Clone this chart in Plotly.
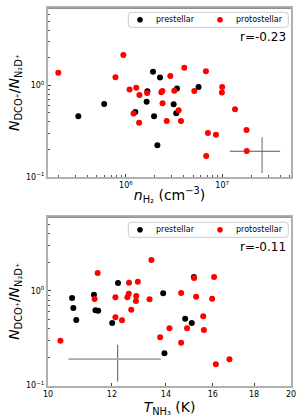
import plotly.graph_objects as go
from plotly.subplots import make_subplots

# ---------------- data ----------------
# top panel: n(H2) vs ratio
pre_nh2 = [3.20e5, 5.94e5, 1.25e6, 1.64e6, 1.67e6, 1.91e6, 2.26e6, 1.96e6, 3.13e6, 3.33e6, 3.39e6, 5.68e6, 2.12e6]
pre_ratio_a = [0.459, 0.627, 0.512, 0.664, 0.864, 1.41, 1.22, 0.459, 0.622, 0.495, 0.923, 0.963, 0.221]
pro_nh2 = [1.98e5, 9.4e5, 7.78e5, 1.09e6, 1.28e6, 1.38e6, 1.66e6, 1.20e6, 1.37e6, 2.39e6, 2.33e6, 2.89e6,
           2.40e6, 2.65e6, 3.18e6, 3.53e6, 3.73e6, 4.04e6, 5.13e6, 6.78e6, 1.0e7, 9.93e6, 1.36e7, 7.11e6,
           8.61e6, 1.79e7, 6.82e6, 1.80e7]
pro_ratio_a = [1.38, 2.16, 1.23, 0.90, 0.946, 0.787, 0.828, 0.491, 0.391, 0.871, 0.842, 1.27,
               0.638, 0.408, 0.877, 0.535, 0.408, 1.56, 0.871, 1.43, 0.963, 0.834, 0.548, 0.301,
               0.289, 0.325, 0.169, 0.191]

# bottom panel: T(NH3) vs ratio
pre_tk = [10.71, 10.75, 10.84, 11.40, 11.45, 11.54, 12.01, 12.21, 13.89, 13.94, 14.79, 15.07, 15.16]
pre_ratio_b = [0.841, 0.660, 0.492, 0.912, 0.624, 0.618, 0.458, 1.21, 0.943, 0.219, 0.508, 0.458, 1.40]
pro_tk = [10.36, 11.52, 11.42, 12.12, 12.12, 12.35, 12.60, 12.59, 12.54, 12.68, 12.86, 12.85,
          12.92, 13.36, 13.43, 13.77, 14.14, 14.62, 14.62, 14.87, 15.17, 15.26, 15.57, 15.60,
          15.97, 16.06, 16.14, 16.78]
pro_ratio_b = [0.298, 1.55, 0.821, 0.856, 0.526, 0.489, 1.22, 0.934, 0.856, 0.632, 0.883, 0.782,
               1.25, 0.815, 2.12, 0.324, 0.403, 0.951, 0.283, 0.403, 1.37, 0.868, 0.539, 0.386,
               0.827, 1.40, 0.168, 0.190]

# representative error crosses
err_a_x, err_a_y, err_a_dx, err_a_dy = [2.6e7], [0.19], [1.4e7], [0.08]
err_b_x, err_b_y, err_b_dx, err_b_dy = [12.2], [0.19], [1.6], [0.08]

series_names = ["prestellar", "protostellar"]
series_colors = ["black", "red"]
r_texts = ["r=-0.23", "r=-0.11"]
x_ticks_a = [1e6, 1e7]
x_ticktext_a = ["10<sup>6</sup>", "10<sup>7</sup>"]
x_ticks_b = [10, 12, 14, 16, 18, 20]
y_ticks = [0.1, 1.0]
y_ticktext = ["10<sup>\u22121</sup>", "10<sup>0</sup>"]

# ---------------- figure ----------------
FONT = "DejaVu Sans"
W, HT = 300, 420
ML, MR, MT, MB = 48, 9, 8, 34
PW, PH = W - ML - MR, HT - MT - MB

def py(p):
    return min(1.0, max(0.0, 1 - (p - MT) / PH))

def px(p):
    return (p - ML) / PW

fig = make_subplots(rows=2, cols=1, vertical_spacing=0.1077)
fig.update_layout(
    width=W, height=HT,
    margin=dict(l=ML, r=MR, t=MT, b=MB, autoexpand=False),
    plot_bgcolor="white", paper_bgcolor="white",
    font=dict(family=FONT, size=8, color="black"),
    showlegend=False,
)

MS = 6
fig.add_trace(go.Scatter(x=pre_nh2, y=pre_ratio_a, mode="markers", name=series_names[0],
                         marker=dict(color=series_colors[0], size=MS)), row=1, col=1)
fig.add_trace(go.Scatter(x=pro_nh2, y=pro_ratio_a, mode="markers", name=series_names[1],
                         marker=dict(color=series_colors[1], size=MS)), row=1, col=1)
fig.add_trace(go.Scatter(x=err_a_x, y=err_a_y, mode="markers", showlegend=False,
                         marker=dict(size=1, color="rgba(0,0,0,0)"),
                         error_x=dict(type="data", array=err_a_dx, color="#555555", thickness=1, width=0),
                         error_y=dict(type="data", array=err_a_dy, color="#aaaaaa", thickness=1.8, width=0)),
              row=1, col=1)

fig.add_trace(go.Scatter(x=pre_tk, y=pre_ratio_b, mode="markers", name=series_names[0],
                         marker=dict(color=series_colors[0], size=MS)), row=2, col=1)
fig.add_trace(go.Scatter(x=pro_tk, y=pro_ratio_b, mode="markers", name=series_names[1],
                         marker=dict(color=series_colors[1], size=MS)), row=2, col=1)
fig.add_trace(go.Scatter(x=err_b_x, y=err_b_y, mode="markers", showlegend=False,
                         marker=dict(size=1, color="rgba(0,0,0,0)"),
                         error_x=dict(type="data", array=err_b_dx, color="#aaaaaa", thickness=1.8, width=0),
                         error_y=dict(type="data", array=err_b_dy, color="#555555", thickness=1, width=0)),
              row=2, col=1)

fig.update_layout(
    yaxis=dict(domain=[py(176.7), py(8.3)]),
    yaxis2=dict(domain=[py(385.5), py(217.3)]),
)

axis_common = dict(showline=True, linecolor="#b0b0b0", linewidth=2, mirror=True,
                   showgrid=False, zeroline=False, ticks="inside", ticklen=3,
                   tickcolor="#444444", tickfont=dict(size=8, family=FONT), automargin=False)
minor_log = dict(ticks="inside", ticklen=2, tickcolor="#555555", dtick="D1", showgrid=False)
TF = 14

fig.update_xaxes(type="log", range=[5.19, 7.715], tickmode="array", tickvals=x_ticks_a,
                 ticktext=x_ticktext_a, minor=minor_log,
                 title=dict(text="<i>n</i><sub>H\u2082</sub> (cm<sup>\u22123</sup>)",
                            font=dict(size=TF, family=FONT), standoff=1),
                 row=1, col=1, **axis_common)
fig.update_xaxes(type="log", range=[1.0, 1.30103], tickmode="array", tickvals=x_ticks_b,
                 ticktext=[str(v) for v in x_ticks_b],
                 title=dict(text="<i>T</i><sub>NH\u2083</sub> (K)",
                            font=dict(size=TF, family=FONT), standoff=1),
                 row=2, col=1, **axis_common)
ytitle = "<i>N</i><sub>DCO\u207a</sub>/<i>N</i><sub>N\u2082D\u207a</sub>"
fig.update_yaxes(type="log", range=[-1, 0.845], tickmode="array", tickvals=y_ticks,
                 ticktext=y_ticktext, minor=minor_log,
                 title=dict(text=ytitle, font=dict(size=TF, family=FONT), standoff=3),
                 row=1, col=1, **axis_common)
fig.update_yaxes(type="log", range=[-1, 0.778], tickmode="array", tickvals=y_ticks,
                 ticktext=y_ticktext, minor=minor_log,
                 title=dict(text=ytitle, font=dict(size=TF, family=FONT), standoff=3),
                 row=2, col=1, **axis_common)

# darker thin top spines
for xr, yr in [("x domain", "y domain"), ("x2 domain", "y2 domain")]:
    fig.add_shape(type="line", xref=xr, yref=yr, x0=0, x1=1, y0=1, y1=1,
                  line=dict(color="#777777", width=1))

# legends (matplotlib-style box, drawn in paper coordinates)
def rounded_box(x0p, y0p, x1p, y1p, r=3):
    X0, X1 = px(x0p), px(x1p)
    Y0, Y1 = py(y1p), py(y0p)  # Y0 bottom, Y1 top
    rx, ry = r / PW, r / PH
    return (f"M {X0+rx},{Y1} L {X1-rx},{Y1} Q {X1},{Y1} {X1},{Y1-ry} "
            f"L {X1},{Y0+ry} Q {X1},{Y0} {X1-rx},{Y0} L {X0+rx},{Y0} "
            f"Q {X0},{Y0} {X0},{Y0+ry} L {X0},{Y1-ry} Q {X0},{Y1} {X0+rx},{Y1} Z")

legend_tops = [12.3, 222.3]
for top in legend_tops:
    bot = top + 15
    cy = top + 7.5
    fig.add_shape(type="path", xref="paper", yref="paper", path=rounded_box(128.3, top, 288.3, bot),
                  line=dict(color="#cccccc", width=1), fillcolor="rgba(255,255,255,0.85)")
    for mx, tx, name, col in zip([140, 220], [156, 236], series_names, series_colors):
        fig.add_shape(type="circle", xref="paper", yref="paper",
                      x0=px(mx - 2.8), x1=px(mx + 2.8), y0=py(cy + 2.8), y1=py(cy - 2.8),
                      fillcolor=col, line=dict(color=col, width=0))
        fig.add_annotation(text=name, xref="paper", yref="paper", x=px(tx), y=py(cy),
                           xanchor="left", yanchor="middle", showarrow=False,
                           font=dict(size=8, family=FONT), xshift=-2)

r_y = [37.3, 247.3]
for txt, yy in zip(r_texts, r_y):
    fig.add_annotation(text=txt, xref="paper", yref="paper", x=px(285.5), y=py(yy),
                       xanchor="right", yanchor="middle", showarrow=False,
                       font=dict(size=12, family=FONT), xshift=2)

fig.write_html("out.html", config={"displayModeBar": False},
               post_script="document.body.style.margin='0px';")
